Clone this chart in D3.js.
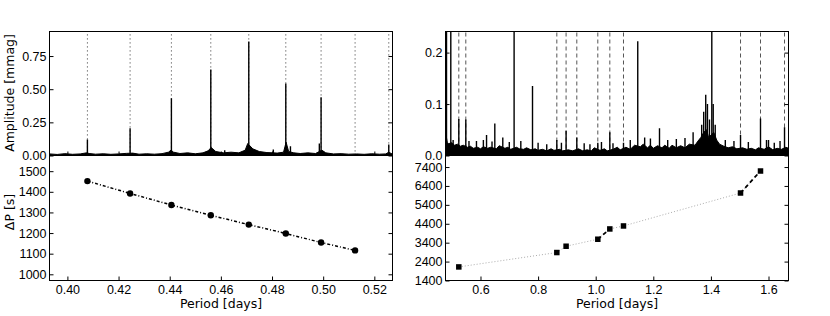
<!DOCTYPE html>
<html>
<head>
<meta charset="utf-8">
<script src="https://cdn.jsdelivr.net/npm/d3@7"></script>
<style>
  body { margin: 0; background: #fff; }
  svg { display: block; font-family: "DejaVu Sans", sans-serif; }
  .axis text { font-size: 12.5px; fill: #000; }
  .axis line { stroke: #000; }
  .label { font-size: 12.5px; fill: #000; }
</style>
</head>
<body>
<script>
// ---- left star: modes, spectrum, period spacings
var leftModes = [0.40782, 0.42451, 0.44066, 0.45606, 0.47091, 0.48538, 0.49918, 0.51247, 0.52564];
var leftPeaks = [[0.40782, 0.12], [0.42451, 0.205], [0.44066, 0.432], [0.45606, 0.648],
  [0.47091, 0.86], [0.48538, 0.543], [0.49918, 0.44], [0.52564, 0.083],
  [0.4615, 0.04], [0.4805, 0.045], [0.4872, 0.07], [0.4985, 0.09]];
var leftNoise = [[0.393, 0.012], [0.396, 0.008], [0.399, 0.014], [0.402, 0.009], [0.405, 0.012],
  [0.4075, 0.02], [0.4085, 0.015], [0.411, 0.01], [0.414, 0.013], [0.417, 0.009], [0.42, 0.012],
  [0.423, 0.016], [0.4255, 0.018], [0.428, 0.01], [0.431, 0.013], [0.434, 0.01], [0.437, 0.014],
  [0.4395, 0.025], [0.4405, 0.04], [0.4415, 0.025], [0.444, 0.015], [0.447, 0.02], [0.45, 0.013],
  [0.453, 0.02], [0.455, 0.035], [0.4562, 0.06], [0.458, 0.03], [0.461, 0.02], [0.464, 0.025],
  [0.467, 0.02], [0.4695, 0.04], [0.4705, 0.09], [0.4725, 0.05], [0.475, 0.03], [0.478, 0.022],
  [0.4805, 0.02], [0.482, 0.018], [0.4845, 0.025], [0.4855, 0.1], [0.4865, 0.03], [0.4885, 0.02],
  [0.491, 0.015], [0.494, 0.02], [0.497, 0.015], [0.4995, 0.04], [0.501, 0.02], [0.504, 0.012],
  [0.507, 0.014], [0.51, 0.01], [0.513, 0.012], [0.516, 0.009], [0.519, 0.013], [0.522, 0.01],
  [0.5245, 0.012], [0.5256, 0.025], [0.5271, 0.01]];
var leftDeltaPeriod = [0.40782, 0.42451, 0.44066, 0.45606, 0.47091, 0.48538, 0.49918, 0.51247];
var leftDeltaP = [1452, 1392, 1336, 1286, 1241, 1198, 1154, 1116];

// ---- right star
var rightModes = [0.5247, 0.549, 0.865, 0.8972, 0.9344, 1.0073, 1.049, 1.0965, 1.5028, 1.5722, 1.6556];
var rightPeaks = [[0.482, 0.5], [0.4969, 0.5], [0.5247, 0.071], [0.549, 0.07], [0.586, 0.028],
  [0.621, 0.04], [0.6497, 0.062], [0.6774, 0.035], [0.7167, 0.5], [0.7806, 0.135], [0.865, 0.03],
  [0.881, 0.025], [0.8972, 0.048], [0.9344, 0.035], [1.0073, 0.025], [1.049, 0.045], [1.0965, 0.025],
  [1.146, 0.222], [1.2215, 0.053], [1.3382, 0.045], [1.368, 0.06], [1.375, 0.085], [1.382, 0.118],
  [1.388, 0.1], [1.395, 0.07], [1.4031, 0.5], [1.408, 0.1], [1.415, 0.06], [1.5028, 0.04],
  [1.5722, 0.072], [1.593, 0.03], [1.6556, 0.055],
  [0.505, 0.03], [0.56, 0.028], [0.61, 0.03], [0.64, 0.027], [0.7, 0.026], [0.74, 0.028],
  [0.8, 0.025], [0.83, 0.022], [0.96, 0.024], [0.98, 0.022], [1.02, 0.026], [1.06, 0.024],
  [1.12, 0.03], [1.17, 0.035], [1.19, 0.033], [1.25, 0.03], [1.28, 0.032], [1.31, 0.034],
  [1.45, 0.03], [1.48, 0.028], [1.53, 0.026], [1.6, 0.03], [1.62, 0.025], [1.64, 0.028]];
var rightNoise = [[0.4785, 0.045], [0.485, 0.025], [0.49, 0.023], [0.5, 0.025], [0.51, 0.02], [0.52, 0.022],
  [0.53, 0.018], [0.54, 0.02], [0.555, 0.016], [0.565, 0.018], [0.575, 0.014], [0.59, 0.016], [0.6, 0.013],
  [0.61, 0.017], [0.625, 0.014], [0.635, 0.016], [0.655, 0.013], [0.665, 0.019], [0.685, 0.014],
  [0.695, 0.016], [0.705, 0.012], [0.725, 0.016], [0.735, 0.013], [0.75, 0.012], [0.76, 0.015],
  [0.775, 0.011], [0.79, 0.013], [0.8, 0.01], [0.815, 0.012], [0.83, 0.009], [0.845, 0.013],
  [0.855, 0.01], [0.875, 0.012], [0.885, 0.009], [0.905, 0.011], [0.92, 0.009], [0.94, 0.013],
  [0.955, 0.009], [0.97, 0.011], [0.985, 0.009], [0.995, 0.015], [1.015, 0.01], [1.03, 0.013],
  [1.04, 0.009], [1.06, 0.012], [1.075, 0.016], [1.085, 0.011], [1.105, 0.016], [1.12, 0.012],
  [1.135, 0.02], [1.155, 0.017], [1.165, 0.022], [1.18, 0.015], [1.19, 0.02], [1.2, 0.014],
  [1.215, 0.019], [1.23, 0.015], [1.24, 0.02], [1.255, 0.014], [1.265, 0.02], [1.28, 0.015],
  [1.295, 0.019], [1.31, 0.015], [1.325, 0.022], [1.345, 0.02], [1.355, 0.028], [1.365, 0.035],
  [1.375, 0.045], [1.385, 0.05], [1.392, 0.035], [1.41, 0.045], [1.42, 0.03], [1.43, 0.022],
  [1.445, 0.018], [1.46, 0.015], [1.475, 0.017], [1.49, 0.013], [1.51, 0.015], [1.525, 0.012],
  [1.54, 0.014], [1.555, 0.011], [1.565, 0.015], [1.585, 0.012], [1.6, 0.017], [1.615, 0.011],
  [1.63, 0.014], [1.645, 0.012], [1.66, 0.016], [1.6694, 0.014]];
var rightDeltaPeriod = [0.5247, 0.865, 0.8972, 1.0073, 1.049, 1.0965, 1.5028, 1.5722];
var rightDeltaP = [2118, 2879, 3212, 3582, 4126, 4284, 6027, 7190];
var rightDashedPairs = [[3, 4], [6, 7]];

// tick labels
var leftXTicks = [0.40, 0.42, 0.44, 0.46, 0.48, 0.50, 0.52];
var rightXTicks = [0.6, 0.8, 1.0, 1.2, 1.4, 1.6];
var leftAmpTicks = [0, 0.25, 0.5, 0.75];
var rightAmpTicks = [0, 0.1, 0.2];
var leftDPTicks = [1000, 1100, 1200, 1300, 1400, 1500];
var rightDPTicks = [1400, 2400, 3400, 4400, 5400, 6400, 7400];

var width = 830, height = 316;
var top0 = 31.5, mid = 155.5, bot = 280.5;

var svg = d3.select("body").append("svg")
    .attr("width", width)
    .attr("height", height);

function panel(opt) {
  var g = svg.append("g");
  var x = opt.x, y = opt.y;
  var y0 = y.range()[0], y1 = y.range()[1];
  var x0 = x.range()[0], x1 = x.range()[1];
  var clipId = "clip" + Math.round(x0) + "_" + Math.round(y1);
  svg.append("clipPath").attr("id", clipId)
    .append("rect").attr("x", x0).attr("y", y1).attr("width", x1 - x0).attr("height", y0 - y1);
  var plot = g.append("g").attr("clip-path", "url(#" + clipId + ")");
  opt.draw(plot, x, y);

  // ticks, inward
  g.append("g").attr("class", "axis")
    .attr("transform", "translate(" + x0 + ",0)")
    .call(d3.axisLeft(y).tickValues(opt.yTicks).tickSize(-4).tickPadding(3).tickFormat(opt.yFormat));
  g.append("g").attr("class", "axis")
    .attr("transform", "translate(" + x1 + ",0)")
    .call(d3.axisRight(y).tickValues(opt.yTicks).tickSize(-4).tickFormat(""));
  g.append("g").attr("class", "axis")
    .attr("transform", "translate(0," + y0 + ")")
    .call(d3.axisBottom(x).tickValues(opt.xTicks).tickSize(-4).tickPadding(5)
      .tickFormat(opt.xFormat ? opt.xFormat : ""));
  g.selectAll(".axis .domain").remove();

  g.append("rect")
    .attr("x", x0).attr("y", y1)
    .attr("width", x1 - x0).attr("height", y0 - y1)
    .attr("fill", "none").attr("stroke", "#000").attr("stroke-width", 1);
}

function spectrum(plot, x, y, noise, peaks, modes, dash) {
  plot.selectAll(".mode").data(modes).enter().append("line")
    .attr("x1", d => x(d)).attr("x2", d => x(d))
    .attr("y1", y.range()[0]).attr("y2", y.range()[1])
    .attr("stroke", "#555").attr("stroke-width", 1)
    .attr("stroke-dasharray", dash);
  plot.append("path").datum(noise)
    .attr("d", d3.area().x(d => x(d[0])).y0(y(0)).y1(d => y(d[1])))
    .attr("fill", "#000").attr("stroke", "#000").attr("stroke-width", 1);
  plot.selectAll(".peak").data(peaks).enter().append("line")
    .attr("x1", d => x(d[0])).attr("x2", d => x(d[0]))
    .attr("y1", y(0)).attr("y2", d => y(d[1]))
    .attr("stroke", "#000").attr("stroke-width", 1.4);
}

var lx = d3.scaleLinear().domain([0.393, 0.5271]).range([49.5, 392.5]);
var rx = d3.scaleLinear().domain([0.4785, 1.6694]).range([445.5, 788.5]);

panel({
  x: lx, y: d3.scaleLinear().domain([0, 0.935]).range([mid, top0]),
  xTicks: leftXTicks, yTicks: leftAmpTicks, yFormat: d3.format(".2f"),
  draw: function(p, x, y) { spectrum(p, x, y, leftNoise, leftPeaks, leftModes, "1.2,2.8"); }
});

panel({
  x: lx, y: d3.scaleLinear().domain([970, 1576]).range([bot, mid]),
  xTicks: leftXTicks, yTicks: leftDPTicks, yFormat: d3.format("d"), xFormat: d3.format(".2f"),
  draw: function(p, x, y) {
    var pts = leftDeltaPeriod.map((d, i) => [d, leftDeltaP[i]]);
    p.append("path").datum(pts)
      .attr("d", d3.line().x(d => x(d[0])).y(d => y(d[1])))
      .attr("fill", "none").attr("stroke", "#000").attr("stroke-width", 1.5)
      .attr("stroke-dasharray", "3,2,1,2");
    p.selectAll("circle").data(pts).enter().append("circle")
      .attr("cx", d => x(d[0])).attr("cy", d => y(d[1])).attr("r", 3.2).attr("fill", "#000");
  }
});

panel({
  x: rx, y: d3.scaleLinear().domain([0, 0.241]).range([mid, top0]),
  xTicks: rightXTicks, yTicks: rightAmpTicks, yFormat: d3.format(".1f"),
  draw: function(p, x, y) { spectrum(p, x, y, rightNoise, rightPeaks, rightModes, "4,3"); }
});

panel({
  x: rx, y: d3.scaleLinear().domain([1400, 8010]).range([bot, mid]),
  xTicks: rightXTicks, yTicks: rightDPTicks, yFormat: d3.format("d"), xFormat: d3.format(".1f"),
  draw: function(p, x, y) {
    var pts = rightDeltaPeriod.map((d, i) => [d, rightDeltaP[i]]);
    var line = d3.line().x(d => x(d[0])).y(d => y(d[1]));
    p.append("path").datum(pts).attr("d", line)
      .attr("fill", "none").attr("stroke", "#aaa").attr("stroke-width", 1)
      .attr("stroke-dasharray", "1,2");
    rightDashedPairs.forEach(function(pr) {
      p.append("path").datum([pts[pr[0]], pts[pr[1]]]).attr("d", line)
        .attr("fill", "none").attr("stroke", "#000").attr("stroke-width", 1.8)
        .attr("stroke-dasharray", "4,3");
    });
    p.selectAll("rect").data(pts).enter().append("rect")
      .attr("x", d => x(d[0]) - 2.75).attr("y", d => y(d[1]) - 2.75)
      .attr("width", 5.5).attr("height", 5.5).attr("fill", "#000");
  }
});

// axis labels
svg.append("text").attr("class", "label")
  .attr("transform", "translate(14,93) rotate(-90)")
  .attr("text-anchor", "middle").text("Amplitude [mmag]");
svg.append("text").attr("class", "label")
  .attr("transform", "translate(14,212) rotate(-90)")
  .attr("text-anchor", "middle").text("ΔP [s]");
svg.append("text").attr("class", "label")
  .attr("x", 221).attr("y", 307.5).attr("text-anchor", "middle").text("Period [days]");
svg.append("text").attr("class", "label")
  .attr("x", 617).attr("y", 307.5).attr("text-anchor", "middle").text("Period [days]");
</script>
</body>
</html>
